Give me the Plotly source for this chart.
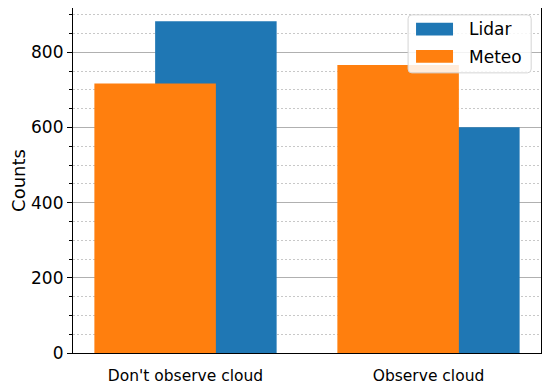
import plotly.graph_objects as go

categories = ["Don't observe cloud", "Observe cloud"]
cat_pos = [0, 1]
lidar_counts = [883, 601]
meteo_counts = [717, 766]
y_ticks = [0, 200, 400, 600, 800]
series_names = ["Lidar", "Meteo"]
series_colors = ["#1f77b4", "#ff7f0e"]

offset = 0.125
bar_w = 0.5

fig = go.Figure()
fig.add_trace(go.Bar(
    x=[p + offset for p in cat_pos], y=lidar_counts, width=bar_w,
    name=series_names[0], marker=dict(color=series_colors[0], line=dict(width=0)),
    showlegend=False,
))
fig.add_trace(go.Bar(
    x=[p - offset for p in cat_pos], y=meteo_counts, width=bar_w,
    name=series_names[1], marker=dict(color=series_colors[1], line=dict(width=0)),
    showlegend=False,
))

# matplotlib-style legend box (rounded) drawn in paper coordinates
x0, x1, y0, y1 = 0.716, 0.979, 0.812, 0.980
rx, ry = 0.008, 0.011
legend_path = (
    f"M {x0+rx},{y0} L {x1-rx},{y0} Q {x1},{y0} {x1},{y0+ry} "
    f"L {x1},{y1-ry} Q {x1},{y1} {x1-rx},{y1} "
    f"L {x0+rx},{y1} Q {x0},{y1} {x0},{y1-ry} "
    f"L {x0},{y0+ry} Q {x0},{y0} {x0+rx},{y0} Z"
)
fig.add_shape(type="path", xref="paper", yref="paper", path=legend_path,
              line=dict(color="#d5d5d5", width=1), fillcolor="rgba(255,255,255,0.85)",
              layer="above")
sw_y = [(0.920, 0.957), (0.841, 0.878)]
txt_y = [0.939, 0.859]
for name, col, (sy0, sy1), ty in zip(series_names, series_colors, sw_y, txt_y):
    fig.add_shape(type="rect", xref="paper", yref="paper",
                  x0=0.733, x1=0.812, y0=sy0, y1=sy1,
                  line=dict(width=0), fillcolor=col, layer="above")
    fig.add_annotation(text=name, xref="paper", yref="paper", x=0.842, y=ty,
                       xanchor="left", yanchor="middle", showarrow=False,
                       font=dict(size=17, color="black", family="DejaVu Sans"))

fig.update_layout(
    width=542, height=379,
    barmode="overlay",
    plot_bgcolor="white", paper_bgcolor="white",
    margin=dict(l=65, r=9, t=0, b=34, pad=0),
    font=dict(family="DejaVu Sans", color="black", size=17),
    showlegend=False,
    xaxis=dict(
        range=[-0.463, 1.463], tickvals=cat_pos, ticktext=categories,
        tickfont=dict(size=15.5), showgrid=False, zeroline=False,
        showline=True, linecolor="black", linewidth=1.2, mirror=True,
        ticks="", automargin=False, ticklabelstandoff=8,
    ),
    yaxis=dict(
        range=[0, 918], tickvals=y_ticks, tickfont=dict(size=17),
        title=dict(text="Counts", font=dict(size=18), standoff=15),
        showgrid=True, gridcolor="#b0b0b0", gridwidth=1,
        zeroline=False, showline=True, linecolor="black", linewidth=1.2, mirror=True,
        ticks="outside", ticklen=5, tickcolor="black", automargin=False,
        minor=dict(dtick=50, showgrid=True, gridcolor="#c8c8c8", griddash="2px,2px",
                   ticks="outside", ticklen=3, tickcolor="black"),
    ),
)

fig.write_html("out.html")
